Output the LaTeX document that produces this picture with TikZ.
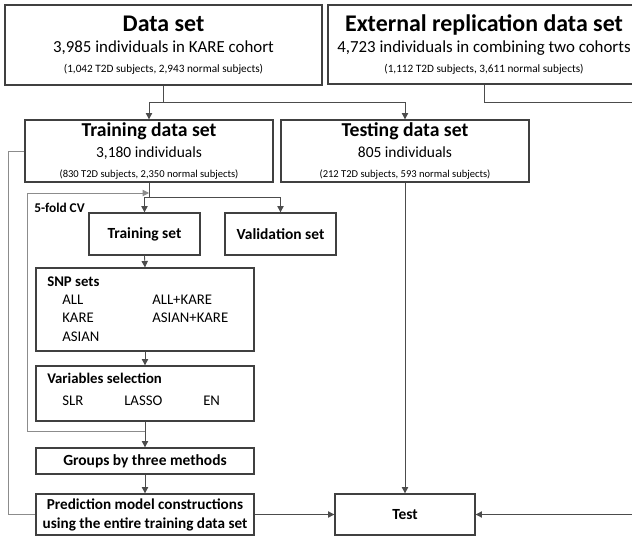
\documentclass[tikz,border=0pt]{standalone}
\usepackage{fontspec}
\setmainfont{Carlito}
\usetikzlibrary{arrows.meta}
\begin{document}
\begin{tikzpicture}[x=0.025cm, y=-0.025cm,
  every node/.style={align=center, inner sep=0pt},
  box/.style={draw=black!75, line width=0.9pt},
  conn/.style={draw=black!70, line width=0.6pt},
  cvline/.style={draw=black!45, line width=0.6pt},
  >={Triangle[length=4.5pt, width=4.5pt]}]
\useasboundingbox (0,0) rectangle (632,538);

\node[box, minimum width=7.925cm, minimum height=2cm] at (163.5,45) (data) {{\fontsize{17}{20}\selectfont\bfseries Data set}\\[3pt]
  {\fontsize{12}{14}\selectfont 3,985 individuals in KARE cohort}\\[2pt]
  {\fontsize{8}{9}\selectfont (1,042 T2D subjects, 2,943 normal subjects)}};
\node[box, minimum width=7.8cm, minimum height=1.975cm] at (484,44.5) (ext) {{\fontsize{17}{20}\selectfont\bfseries External replication data set}\\[3pt]
  {\fontsize{12}{14}\selectfont 4,723 individuals in combining two cohorts}\\[2pt]
  {\fontsize{8}{9}\selectfont (1,112 T2D subjects, 3,611 normal subjects)}};

\node[box, minimum width=6.2cm, minimum height=1.55cm] at (149,151) (train) {{\fontsize{14}{16}\selectfont\bfseries Training data set}\\[3pt]
  {\fontsize{11}{13}\selectfont 3,180 individuals}\\[2.5pt]
  {\fontsize{7.5}{9}\selectfont (830 T2D subjects, 2,350 normal subjects)}};
\node[box, minimum width=6.2cm, minimum height=1.55cm] at (405,151) (testds) {{\fontsize{14}{16}\selectfont\bfseries Testing data set}\\[3pt]
  {\fontsize{11}{13}\selectfont 805 individuals}\\[2.5pt]
  {\fontsize{7.5}{9}\selectfont (212 T2D subjects, 593 normal subjects)}};

\node[anchor=west, font=\fontsize{9.5}{11}\selectfont\bfseries] at (34,208) (cv) {5-fold CV};
\node[box, minimum width=2.775cm, minimum height=1.05cm, font=\fontsize{11}{13}\selectfont\bfseries] at (144.5,234) (trset) {Training set};
\node[box, minimum width=2.775cm, minimum height=1.05cm, font=\fontsize{11}{13}\selectfont\bfseries] at (280.5,234) (valset) {Validation set};

\node[box, minimum width=5.45cm, minimum height=2.075cm] at (145,309.5) (snp) {};
\node[anchor=west, font=\fontsize{10.5}{12}\selectfont\bfseries] at (47,282) (snplab) {SNP sets};
\node[anchor=west, font=\fontsize{10.5}{12}\selectfont] at (62,300) (snpall) {ALL};
\node[anchor=west, font=\fontsize{10.5}{12}\selectfont] at (62,318) (snpkare) {KARE};
\node[anchor=west, font=\fontsize{10.5}{12}\selectfont] at (62,337) (snpasian) {ASIAN};
\node[anchor=west, font=\fontsize{10.5}{12}\selectfont] at (152,300) (snpallk) {ALL+KARE};
\node[anchor=west, font=\fontsize{10.5}{12}\selectfont] at (152,318) (snpasiank) {ASIAN+KARE};

\node[box, minimum width=5.45cm, minimum height=1.375cm] at (145,393.5) (varsel) {};
\node[anchor=west, font=\fontsize{10.5}{12}\selectfont\bfseries] at (47,378) (varlab) {Variables selection};
\node[anchor=west, font=\fontsize{10.5}{12}\selectfont] at (62,401) (slr) {SLR};
\node[anchor=west, font=\fontsize{10.5}{12}\selectfont] at (124,401) (lasso) {LASSO};
\node[anchor=west, font=\fontsize{10.5}{12}\selectfont] at (203,401) (en) {EN};

\node[box, minimum width=5.45cm, minimum height=0.65cm, font=\fontsize{11}{13}\selectfont\bfseries] at (145,461) (groups) {Groups by three methods};
\node[box, minimum width=5.45cm, minimum height=1.025cm, font=\fontsize{10.8}{13.5}\selectfont\bfseries] at (145,514.5) (pred) {Prediction model constructions\\using the entire training data set};
\node[box, minimum width=3.5cm, minimum height=1.025cm, font=\fontsize{11}{13}\selectfont\bfseries] at (405,514.5) (test) {Test};

\coordinate (dsplit) at (163.5,102);
\coordinate (rtop) at (645,102);
\coordinate (tsplit) at (149,197);
\coordinate (outer) at (8,0);
\coordinate (cvbot) at (27,431);
\coordinate (cvtop) at (27,193);

\draw[conn] (data.south) -- (dsplit);
\draw[conn, ->] (dsplit) -| (train.north);
\draw[conn, ->] (dsplit) -| (testds.north);
\draw[conn, ->] (ext.south) |- (rtop) |- (test.east);
\draw[conn, ->] (testds.south) -- (test.north);
\draw[conn, ->] (pred.east) -- (test.west);

\draw[conn] (train.south) -- (tsplit);
\draw[conn, ->] (tsplit) -| (trset.north);
\draw[conn, ->] (tsplit) -| (valset.north);
\draw[conn, ->] (trset.south) -- (snp.north);
\draw[conn, ->] (snp.south) -- (varsel.north);
\draw[conn, ->] (varsel.south) -- (groups.north);
\draw[conn, ->] (groups.south) -- (pred.north);

\draw[cvline, ->] (varsel.south |- cvbot) -- (cvbot) -- (cvtop) -- (cvtop -| train.south);
\draw[cvline] (train.west) -- (train.west -| outer) |- (pred.west);
\end{tikzpicture}
\end{document}
